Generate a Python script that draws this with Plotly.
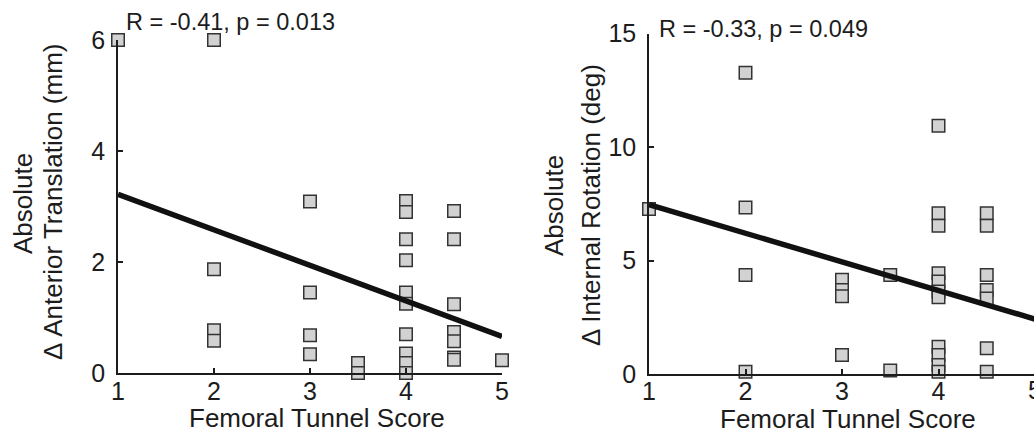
import plotly.graph_objects as go

# Femoral tunnel score vs. absolute change in anterior translation (mm)
trans_score = [1,
               2, 2, 2, 2,
               3, 3, 3, 3,
               3.5, 3.5,
               4, 4, 4, 4, 4, 4, 4, 4, 4, 4,
               4.5, 4.5, 4.5, 4.5, 4.5, 4.5, 4.5,
               5]
trans_mm = [6.0,
            6.0, 1.87, 0.77, 0.58,
            3.09, 1.45, 0.68, 0.34,
            0.18, 0.0,
            3.1, 2.9, 2.41, 2.03, 1.45, 1.25, 0.70, 0.35, 0.18, 0.0,
            2.92, 2.41, 1.24, 0.74, 0.57, 0.28, 0.24,
            0.23]

# Femoral tunnel score vs. absolute change in internal rotation (deg)
rot_score = [1,
             2, 2, 2, 2,
             3, 3, 3, 3,
             3.5, 3.5,
             4, 4, 4, 4, 4, 4, 4, 4, 4, 4, 4,
             4.5, 4.5, 4.5, 4.5, 4.5, 4.5, 4.5,
             5]
rot_deg = [7.27,
           13.27, 7.33, 4.36, 0.1,
           4.15, 3.7, 3.42, 0.84,
           4.36, 0.15,
           10.94, 7.08, 6.53, 4.44, 4.07, 3.63, 3.38, 1.2, 0.84, 0.4, 0.1,
           7.08, 6.53, 4.36, 3.7, 3.33, 1.13, 0.1,
           3.26]

# Least-squares lines (value at score 1 and score 5)
fit_x = [1, 5]
trans_fit = [3.22, 0.66]
rot_fit = [7.46, 2.42]

trans_stats = "R = -0.41, p = 0.013"
rot_stats = "R = -0.33, p = 0.049"

x_ticks = [1, 2, 3, 4, 5]
trans_ticks = [0, 2, 4, 6]
rot_ticks = [0, 5, 10, 15]

W, H = 1034, 442
FONT = "Liberation Sans, Arial, sans-serif"
INK = "#1c1c1c"


def px_x(v):
    return v / W


def px_y(v):
    return 1 - v / H


marker = dict(symbol="square", size=12.5, color="#d2d2d2",
              line=dict(color="#333333", width=1.5))

fig = go.Figure()
fig.add_trace(go.Scatter(x=trans_score, y=trans_mm, mode="markers",
                         marker=marker, cliponaxis=False,
                         xaxis="x", yaxis="y", showlegend=False))
fig.add_trace(go.Scatter(x=fit_x, y=trans_fit, mode="lines",
                         line=dict(color="#111111", width=5.5),
                         xaxis="x", yaxis="y", showlegend=False))
fig.add_trace(go.Scatter(x=rot_score, y=rot_deg, mode="markers",
                         marker=marker, cliponaxis=False,
                         xaxis="x2", yaxis="y2", showlegend=False))
fig.add_trace(go.Scatter(x=fit_x, y=rot_fit, mode="lines",
                         line=dict(color="#111111", width=5.5),
                         xaxis="x2", yaxis="y2", showlegend=False))

axis_common = dict(showline=True, linecolor=INK, linewidth=1.5,
                   ticks="inside", ticklen=5, tickwidth=1.5, tickcolor=INK,
                   showgrid=False, zeroline=False, mirror=False,
                   automargin=False,
                   tickfont=dict(family=FONT, size=25, color=INK))

# Right panel runs off the page edge; its axis range is cut at the edge
right_x0, right_x1 = 649, W
right_unit = 96.5
right_range_end = 1 + (right_x1 - right_x0) / right_unit

fig.update_layout(
    template="none",
    width=W, height=H,
    margin=dict(l=0, r=0, t=0, b=0, pad=0, autoexpand=False),
    paper_bgcolor="white", plot_bgcolor="white",
    xaxis=dict(domain=[px_x(118), px_x(502)], range=[1, 5], anchor="y",
               tickvals=x_ticks, ticklabelstandoff=-5, **axis_common),
    yaxis=dict(domain=[px_y(373), px_y(40)], range=[0, 6], anchor="x",
               tickvals=trans_ticks, ticklabelstandoff=6, **axis_common),
    xaxis2=dict(domain=[px_x(right_x0), 1], range=[1, right_range_end],
                anchor="y2", tickvals=x_ticks, ticklabelstandoff=-6,
                **axis_common),
    yaxis2=dict(domain=[px_y(374), px_y(33.5)], range=[0, 15], anchor="x2",
                tickvals=rot_ticks, ticklabelstandoff=6, **axis_common),
)

title_font = dict(family=FONT, size=26, color=INK)
stat_font = dict(family=FONT, size=23.5, color=INK)

annotations = [
    # x-axis titles
    dict(text="Femoral Tunnel Score", x=px_x(317), y=px_y(418),
         xanchor="center", yanchor="middle", font=title_font),
    dict(text="Femoral Tunnel Score", x=px_x(848), y=px_y(419),
         xanchor="center", yanchor="middle", font=title_font),
    # y-axis titles (two lines each)
    dict(text="Absolute", x=px_x(23), y=px_y(204), textangle=-90,
         xanchor="center", yanchor="middle", font=title_font),
    dict(text="Δ Anterior Translation (mm)", x=px_x(53), y=px_y(202),
         textangle=-90, xanchor="center", yanchor="middle", font=title_font),
    dict(text="Absolute", x=px_x(554), y=px_y(206), textangle=-90,
         xanchor="center", yanchor="middle", font=title_font),
    dict(text="Δ Internal Rotation (deg)", x=px_x(591), y=px_y(205),
         textangle=-90, xanchor="center", yanchor="middle", font=title_font),
    # correlation statistics
    dict(text=trans_stats, x=px_x(124), y=px_y(22), xanchor="left",
         yanchor="middle", font=stat_font),
    dict(text=rot_stats, x=px_x(657), y=px_y(29), xanchor="left",
         yanchor="middle", font=stat_font),
    # last tick label of the right panel, past the page edge
    dict(text=str(x_ticks[-1]),
         x=px_x(right_x0) + (x_ticks[-1] - 1) * right_unit / W,
         y=px_y(390), xanchor="center", yanchor="middle",
         font=dict(family=FONT, size=25, color=INK)),
]
for a in annotations:
    a.update(xref="paper", yref="paper", showarrow=False)
fig.update_layout(annotations=annotations)

fig.write_html("out.html")
